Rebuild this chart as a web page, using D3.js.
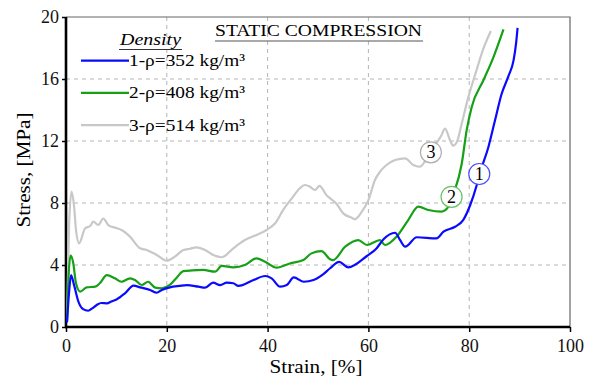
<!DOCTYPE html>
<html>
<head>
<meta charset="utf-8">
<script src="https://cdn.jsdelivr.net/npm/d3@7"></script>
<style>
  body { margin: 0; background: #fff; }
  svg { display: block; font-family: "Liberation Serif", "Times New Roman", serif; }
</style>
</head>
<body>
<div id="chart"></div>
<script>
// 读图得到的数据 (strain %, stress MPa)
var xTicks = [0, 20, 40, 60, 80, 100];
var yTicks = [0, 4, 8, 12, 16, 20];
var seriesNames = ['1-ρ=352 kg/m³', '2-ρ=408 kg/m³', '3-ρ=514 kg/m³'];
var seriesColors = ['#0a0aff', '#16a016', '#c8c8c8'];
var markColors = ['#4a4aff', '#66c266', '#b0b0b0'];
var markLabels = ['1', '2', '3'];
var markPos = [[82.0, 9.87], [76.5, 8.4], [72.4, 11.27]];

var blue = [[0.2,0.3],[0.6,2.2],[1.0,3.35],[1.6,2.7],[2.5,1.6],[3.4,1.15],[4.4,1.05],[5.2,1.2],[6.1,1.42],[7.0,1.55],[8.1,1.53],[9.0,1.65],[10.1,1.79],[11.7,2.17],[13.4,2.67],[14.7,2.56],[16.7,2.39],[18.0,2.21],[19.0,2.39],[20.6,2.56],[22.5,2.65],[24.0,2.7],[26.3,2.6],[27.6,2.54],[29.2,2.86],[30.6,2.7],[31.9,2.86],[33.2,2.82],[34.2,2.65],[37.2,3.03],[39.5,3.29],[40.8,3.14],[42.5,2.6],[43.8,2.71],[45.2,3.2],[47.2,2.92],[49.1,3.03],[51.0,3.4],[52.4,3.79],[54.2,4.2],[56.0,3.85],[59.7,4.58],[61.6,5.07],[63.0,5.66],[65.3,6.08],[66.3,5.6],[67.3,5.18],[69.6,5.79],[73.5,5.72],[74.9,6.15],[77.2,6.47],[78.8,6.9],[80.2,7.87],[81.5,9.16],[82.1,9.9],[83.8,11.6],[85.1,13.3],[86.4,15.0],[87.8,16.2],[88.8,17.2],[89.3,18.3],[89.6,19.3]];
var green = [[0.2,0.4],[0.5,3.2],[0.9,4.6],[1.4,4.2],[2.0,2.8],[2.8,2.28],[4.1,2.56],[5.8,2.6],[6.7,2.82],[8.1,3.35],[9.7,3.14],[11.0,2.92],[12.7,3.14],[13.7,3.03],[15.0,2.71],[16.3,2.92],[17.7,2.54],[19.0,2.5],[20.6,2.71],[22.0,3.2],[23.3,3.6],[25.0,3.65],[27.2,3.68],[29.6,3.57],[30.9,3.94],[33.2,3.85],[35.5,4.0],[37.8,4.43],[39.5,4.21],[41.8,3.83],[44.4,4.1],[47.1,4.32],[48.7,4.75],[50.7,4.9],[52.4,4.37],[53.0,4.32],[55.4,5.18],[58.0,5.61],[59.7,5.29],[62.3,5.61],[63.3,5.29],[65.6,5.83],[67.9,6.9],[69.9,7.76],[71.9,7.55],[74.5,7.44],[75.9,7.76],[76.5,8.4],[77.2,8.9],[78.5,10.5],[79.5,12.7],[80.5,14.2],[82.8,15.9],[84.8,17.4],[86.8,19.2]];
var gray = [[0.2,0.5],[0.6,6.5],[1.1,8.73],[1.6,7.8],[2.0,6.2],[2.6,5.4],[3.8,6.37],[4.8,6.52],[5.4,6.8],[6.4,6.58],[7.4,7.0],[8.4,6.58],[10.1,6.37],[11.0,6.26],[12.7,5.83],[14.7,5.08],[16.0,4.97],[18.0,4.65],[20.0,4.28],[21.6,4.54],[23.3,4.97],[24.6,5.05],[25.9,5.14],[27.6,4.97],[29.2,4.65],[30.9,4.5],[33.2,5.08],[35.5,5.61],[37.8,5.94],[39.8,6.26],[41.5,6.69],[43.1,7.55],[44.8,8.3],[46.4,8.95],[47.4,9.16],[48.4,9.05],[49.4,8.84],[50.3,9.1],[51.7,8.5],[52.4,8.3],[53.7,7.94],[55.0,7.33],[56.7,7.05],[57.3,6.95],[58.7,7.44],[60.0,8.19],[61.3,9.48],[62.3,10.02],[63.6,10.45],[65.3,10.77],[67.3,10.88],[68.9,10.45],[70.2,10.34],[72.3,11.3],[74.5,12.37],[75.2,12.8],[76.2,12.05],[76.8,11.7],[77.5,11.9],[78.5,13.1],[79.8,14.8],[81.2,16.3],[82.8,17.95],[84.3,19.1]];
var seriesData = [blue, green, gray];

var width = 589, height = 378;
var pLeft = 66, pRight = 570, pTop = 17, pBottom = 327;

var svg = d3.select('#chart').append('svg')
    .attr('width', width)
    .attr('height', height);

var x = d3.scaleLinear().domain([0, 100]).range([pLeft, pRight]);
var y = d3.scaleLinear().domain([0, 20]).range([pBottom, pTop]);

// 网格虚线
var grid = svg.append('g').attr('class', 'grid');
grid.selectAll('line.gx')
    .data(xTicks.slice(1, -1))
    .enter().append('line')
    .attr('x1', function(d) { return x(d); })
    .attr('x2', function(d) { return x(d); })
    .attr('y1', pTop).attr('y2', pBottom);
grid.selectAll('line.gy')
    .data(yTicks.slice(1, -1))
    .enter().append('line')
    .attr('y1', function(d) { return y(d); })
    .attr('y2', function(d) { return y(d); })
    .attr('x1', pLeft).attr('x2', pRight);
grid.selectAll('line')
    .attr('stroke', '#b4b4b4')
    .attr('stroke-width', 1)
    .attr('stroke-dasharray', '4,4');

// 上、右边框
svg.append('path')
    .attr('d', 'M' + pLeft + ',' + pTop + 'H' + pRight + 'V' + pBottom)
    .attr('fill', 'none')
    .attr('stroke', '#666')
    .attr('stroke-width', 1.2);

// 坐标轴
var xAxis = svg.append('g')
    .attr('transform', 'translate(0,' + pBottom + ')')
    .call(d3.axisBottom(x).tickValues(xTicks).tickSize(5).tickPadding(7));
var yAxis = svg.append('g')
    .attr('transform', 'translate(' + pLeft + ',0)')
    .call(d3.axisLeft(y).tickValues(yTicks).tickSize(4).tickPadding(3));
[xAxis, yAxis].forEach(function(a) {
    a.select('.domain').attr('stroke', '#000').attr('stroke-width', 2.6);
    a.selectAll('.tick line').attr('stroke', '#000').attr('stroke-width', 1.5);
    a.selectAll('.tick text')
        .attr('fill', '#111')
        .style('font-family', '"Liberation Serif", serif')
        .style('font-size', '18px');
});
yAxis.select('.domain').attr('d', 'M0,' + (pBottom + 1) + 'V' + pTop);
xAxis.select('.domain').attr('d', 'M' + (pLeft - 1) + ',0H' + pRight);

// 曲线
var line = d3.line()
    .x(function(d) { return x(d[0]); })
    .y(function(d) { return y(d[1]); })
    .curve(d3.curveMonotoneX);
var order = [2, 1, 0];
svg.append('g').selectAll('path')
    .data(order)
    .enter().append('path')
    .attr('d', function(i) { return line(seriesData[i]); })
    .attr('fill', 'none')
    .attr('stroke', function(i) { return seriesColors[i]; })
    .attr('stroke-width', 2.2)
    .attr('stroke-linejoin', 'round');

// 编号圆圈
var marks = svg.append('g').selectAll('g')
    .data(markPos)
    .enter().append('g')
    .attr('transform', function(d) { return 'translate(' + x(d[0]) + ',' + y(d[1]) + ')'; });
marks.append('circle')
    .attr('r', 10.5)
    .attr('fill', '#fff')
    .attr('stroke', function(d, i) { return markColors[i]; })
    .attr('stroke-width', 1.2);
marks.append('text')
    .attr('text-anchor', 'middle')
    .attr('dy', '0.34em')
    .style('font-size', '18px')
    .text(function(d, i) { return markLabels[i]; });

// 标题
svg.append('text')
    .attr('x', 215).attr('y', 36)
    .attr('textLength', 207)
    .attr('lengthAdjust', 'spacingAndGlyphs')
    .style('font-size', '17px')
    .text('STATIC COMPRESSION');
svg.append('line')
    .attr('x1', 215).attr('x2', 423)
    .attr('y1', 41).attr('y2', 41)
    .attr('stroke', '#555').attr('stroke-width', 1.2);

// 图例
svg.append('text')
    .attr('x', 120).attr('y', 45)
    .attr('textLength', 61)
    .attr('lengthAdjust', 'spacingAndGlyphs')
    .style('font-size', '17px')
    .style('font-style', 'italic')
    .text('Density');
svg.append('line')
    .attr('x1', 119).attr('x2', 182)
    .attr('y1', 49.5).attr('y2', 49.5)
    .attr('stroke', '#333').attr('stroke-width', 1);

var legend = svg.append('g').selectAll('g')
    .data(seriesNames)
    .enter().append('g')
    .attr('transform', function(d, i) { return 'translate(0,' + (60.7 + i * 32.2) + ')'; });
legend.append('line')
    .attr('x1', 81).attr('x2', 129)
    .attr('stroke', function(d, i) { return seriesColors[i]; })
    .attr('stroke-width', 2.2);
legend.append('text')
    .attr('x', 129).attr('y', 5.5)
    .attr('textLength', 116)
    .attr('lengthAdjust', 'spacingAndGlyphs')
    .style('font-size', '17px')
    .text(function(d) { return d; });

// 轴标题
svg.append('text')
    .attr('x', 316).attr('y', 373)
    .attr('text-anchor', 'middle')
    .attr('textLength', 93)
    .attr('lengthAdjust', 'spacingAndGlyphs')
    .style('font-size', '18px')
    .text('Strain, [%]');
svg.append('text')
    .attr('transform', 'translate(30,170) rotate(-90)')
    .attr('text-anchor', 'middle')
    .attr('textLength', 115)
    .attr('lengthAdjust', 'spacingAndGlyphs')
    .style('font-size', '18px')
    .text('Stress, [MPa]');
</script>
</body>
</html>
